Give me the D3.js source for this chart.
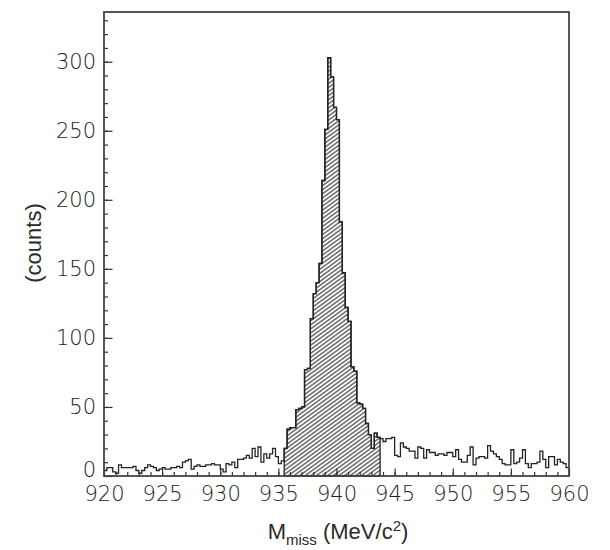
<html>
<head>
    <meta charset="UTF-8">
    <title>Missing mass</title>
    <script src="https://d3js.org/d3.v7.min.js"></script>
    <style>
        body { margin: 0; background: #fff; }
        .tick text { font-family: "DejaVu Sans", sans-serif; font-weight: 200; font-size: 21px; fill: #222; }
    </style>
</head>
<body>
    <svg width="610" height="550"></svg>
    <script>
        // histogram: 0.25 MeV bins from 920 to 960
        var xStart = 920, binWidth = 0.25;
        // counts below the selected window (920 - 935.5)
        var bgLow = [4,6,6,3,2,8,6,6,6,6, 7,4,2,4,6,8,7,6,4,5, 6,5,5,6,6,7,6,10,11,12,
                     5,7,8,7,7,8,8,9,8,8, 5,3,9,8,10,6,12,12,13,15, 13,20,14,21,10,16,13,16,20,14, 9,11];
        // selected (hatched) window 935.5 - 943.75
        var peak = [20,34,35,35,48,49,50,77,78,114, 132,140,154,214,251,303,289,267,258,184,
                    147,122,112,79,76,53,52,49,38,30, 20,31,28];
        // counts above the window (943.75 - 960)
        var bgHigh = [27,25,27,27,28,15,14,24,21,20, 18,18,13,21,20,13,19,17,17,15, 16,16,15,17,17,14,19,12,10,10,
                      15,21,8,13,14,14,13,22,18,16, 14,12,9,8,8,19,9,10,13,19, 9,6,9,9,10,18,12,6,14,14, 8,12,10,9,6];
        var xTicks = [920, 925, 930, 935, 940, 945, 950, 955, 960];
        var yTicks = [0, 50, 100, 150, 200, 250, 300];

        var margin = { top: 12, right: 41, bottom: 74, left: 104 },
            svg = d3.select('svg'),
            width = +svg.attr('width') - margin.left - margin.right,
            height = +svg.attr('height') - margin.top - margin.bottom,
            g = svg.append('g').attr('transform', 'translate(' + margin.left + ',' + margin.top + ')');

        var x = d3.scaleLinear().domain([920, 960]).range([0, width]);
        var y = d3.scaleLinear().domain([0, 336]).range([height, 0]);

        var counts = bgLow.concat(peak).concat(bgHigh);
        var bins = counts.map(function(c, i) { return { x: xStart + i * binWidth, c: c }; });
        bins.push({ x: xStart + counts.length * binWidth, c: counts[counts.length - 1] });

        var p0 = bgLow.length;
        var peakBins = bins.slice(p0, p0 + peak.length);
        peakBins.push({ x: xStart + (p0 + peak.length) * binWidth, c: peak[peak.length - 1] });

        // hatch pattern
        var pat = svg.append('defs').append('pattern')
            .attr('id', 'hatch')
            .attr('patternUnits', 'userSpaceOnUse')
            .attr('width', 6).attr('height', 3.3)
            .attr('patternTransform', 'rotate(-36)');
        pat.append('line').attr('x1', 0).attr('x2', 6).attr('y1', 1.65).attr('y2', 1.65)
            .attr('stroke', '#1a1a1a').attr('stroke-width', 1);

        var area = d3.area().curve(d3.curveStepAfter)
            .x(function(d) { return x(d.x); })
            .y0(y(0))
            .y1(function(d) { return y(d.c); });
        var line = d3.line().curve(d3.curveStepAfter)
            .x(function(d) { return x(d.x); })
            .y(function(d) { return y(d.c); });

        g.append('path').datum(peakBins)
            .attr('fill', 'url(#hatch)')
            .attr('stroke', '#222').attr('stroke-width', 1.3)
            .attr('d', area);
        g.append('path').datum(bins)
            .attr('fill', 'none')
            .attr('stroke', '#222').attr('stroke-width', 1.3)
            .attr('d', line);

        // axes, ticks pointing inside
        g.append('g').attr('transform', 'translate(0,' + height + ')')
            .call(d3.axisBottom(x).tickValues(d3.range(921, 960, 1)).tickSize(-4).tickFormat(''))
            .call(function(a) { a.select('.domain').remove(); });
        g.append('g').attr('transform', 'translate(0,' + height + ')')
            .call(d3.axisBottom(x).tickValues(xTicks).tickSize(-7.5).tickPadding(10).tickFormat(d3.format('d')))
            .call(function(a) { a.select('.domain').remove(); });
        g.append('g')
            .call(d3.axisLeft(y).tickValues(d3.range(10, 336, 10)).tickSize(-4).tickFormat(''))
            .call(function(a) { a.select('.domain').remove(); });
        var yAxis = g.append('g')
            .call(d3.axisLeft(y).tickValues(yTicks).tickSize(-8.5).tickPadding(8).tickFormat(d3.format('d')))
            .call(function(a) { a.select('.domain').remove(); });
        // lift the "0" a little so it clears the x labels
        yAxis.selectAll('.tick').filter(function(d) { return d === 0; }).select('text').attr('y', -6);
        g.selectAll('.tick line').attr('stroke', '#333').attr('stroke-width', 1.2);

        // frame
        g.append('rect').attr('width', width).attr('height', height)
            .attr('fill', 'none').attr('stroke', '#444').attr('stroke-width', 1.8);

        // axis titles
        svg.append('text')
            .attr('transform', 'translate(41,' + 243 + ') rotate(-90)')
            .attr('text-anchor', 'middle')
            .attr('font-family', 'Liberation Sans, Arial, sans-serif').attr('font-size', 22)
            .attr('fill', '#2a2a2a')
            .text('(counts)');
        var xt = svg.append('text')
            .attr('x', 338).attr('y', 539)
            .attr('text-anchor', 'middle')
            .attr('font-family', 'Liberation Sans, Arial, sans-serif').attr('font-size', 22)
            .attr('fill', '#2a2a2a');
        xt.append('tspan').text('M');
        xt.append('tspan').attr('font-size', 15).attr('dy', 6).text('miss');
        xt.append('tspan').attr('dy', -6).text(' (MeV/c');
        xt.append('tspan').attr('font-size', 15).attr('dy', -8).text('2');
        xt.append('tspan').attr('dy', 8).text(')');
    </script>
</body>
</html>
